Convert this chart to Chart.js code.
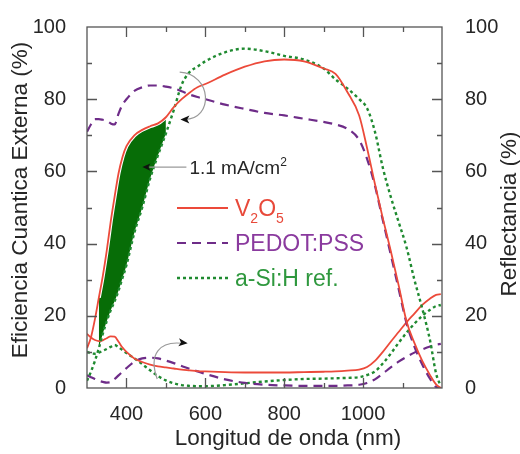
<!DOCTYPE html>
<html>
<head>
<meta charset="utf-8">
<script src="https://cdn.jsdelivr.net/npm/chart.js@4/dist/chart.umd.min.js"></script>
<style>
  html, body { margin: 0; padding: 0; background: #fff; }
  #wrap { width: 520px; height: 454px; }
</style>
</head>
<body>
<div id="wrap"><canvas id="eqeChart" width="520" height="454"></canvas></div>
<script>
// wavelength grid (nm) shared by all curves
const wavelength = [300, 310, 320, 330, 340, 350, 360, 370, 380, 390, 400, 420, 440, 460, 480, 500, 520, 540, 560, 580, 600, 650, 700, 750, 800, 850, 900, 930, 960, 990, 1010, 1030, 1050, 1070, 1090, 1110, 1130, 1150, 1170, 1185, 1197];

// external quantum efficiency (%)
const eqeV2O5 = [11, 14, 19, 25, 31, 38, 46, 53, 59.5, 64, 67, 70, 71.5, 72.5, 73.3, 75, 77.8, 80, 81.8, 83.3, 84.2, 86.8, 89, 90.5, 91, 90.5, 88.5, 87, 82, 75.5, 66.5, 56.5, 47, 38, 28.5, 18.5, 12.5, 7.5, 3.5, 1, 0];
const eqePEDOT = [71, 73, 74.5, 74.5, 74.3, 74, 73.3, 73, 76, 78.5, 80, 82.3, 83.3, 83.8, 83.8, 83.5, 83, 82.2, 81.3, 80.6, 80, 78.5, 77.3, 76.2, 75.5, 74.6, 73.7, 73, 71.8, 68.7, 63.5, 56, 46.5, 37, 27.5, 18, 11.5, 6.5, 2.5, 0.3, 0];
const eqeASi = [2, 4.5, 7.5, 11, 15, 18.5, 21.5, 24, 27, 30.5, 34, 43, 50, 58, 64.5, 70.5, 77, 84, 87.5, 89, 90.5, 93, 94, 93.3, 92, 91, 88.5, 85.5, 83, 80, 77.5, 71, 61, 53, 46, 39, 30, 22, 13, 4, 0.5];

// reflectance (%)
const refV2O5 = [15, 14, 13.3, 13, 13.2, 13.8, 14.3, 14.2, 12.8, 11.2, 10, 8.2, 7.2, 6.5, 6, 5.7, 5.4, 5.1, 4.9, 4.7, 4.6, 4.4, 4.3, 4.3, 4.3, 4.4, 4.5, 4.6, 4.8, 5.1, 5.8, 7.5, 10, 12.8, 15.5, 18.2, 20.6, 23, 24.8, 25.8, 26];
const refPEDOT = [3.5, 3, 2.5, 2, 1.7, 1.5, 1.6, 2.5, 3.5, 4.5, 5.5, 7.3, 8.2, 8.4, 8.2, 7.6, 6.9, 6.1, 5.3, 4.6, 3.9, 2.4, 1.4, 0.9, 0.7, 0.6, 0.6, 0.6, 0.7, 0.9, 1.4, 2.4, 4, 5.7, 7.3, 8.6, 9.8, 10.7, 11.5, 12, 12.2];
const refASi = [10, 9.6, 9.5, 9.8, 10.3, 10.8, 11.4, 11.9, 11.3, 10.5, 9.7, 8.2, 6.6, 4.9, 3.3, 2.1, 1.3, 0.8, 0.6, 0.5, 0.5, 0.8, 1.3, 1.8, 2.2, 2.5, 2.6, 2.7, 2.8, 3, 3.6, 4.6, 6.8, 9.5, 12.5, 15.3, 17.8, 20, 21.7, 22.7, 23];

// shaded gain region (1.1 mA/cm2) between V2O5 and a-Si:H
const gainRange = [330, 500];

// axis ticks
const xTicks = [400, 600, 800, 1000];
const xMinor = [400, 500, 600, 700, 800, 900, 1000, 1100];
const yTicks = [0, 20, 40, 60, 80, 100];
const yMinor = [10, 20, 30, 40, 50, 60, 70, 80, 90];

const FONT = "'Liberation Sans', Arial, sans-serif";
const RED = '#ec4a3a', PURPLE = '#6e2c88', GREEN = '#1f8a30', FILL = '#076d07';
const INK = '#262626';

function pts(ys, range) {
  const out = [];
  wavelength.forEach((w, i) => {
    if (!range || (w >= range[0] && w <= range[1])) out.push({ x: w, y: ys[i] });
  });
  return out;
}

function line(label, data, color, width, dash, axis) {
  return {
    label, data, borderColor: color, borderWidth: width, borderDash: dash,
    pointRadius: 0, fill: false, cubicInterpolationMode: 'monotone',
    yAxisID: axis, order: 1
  };
}

function vText(ctx, text, cx, cy) {
  ctx.save();
  ctx.translate(cx, cy);
  ctx.rotate(-Math.PI / 2);
  ctx.fillText(text, 0, 0);
  ctx.restore();
}

// inward ticks, box and axis titles
const framePlugin = {
  id: 'frame',
  afterDatasetsDraw(chart) {
    const { ctx, chartArea: a, scales: { x, y } } = chart;
    ctx.save();
    ctx.strokeStyle = '#555';
    ctx.lineWidth = 1.3;
    ctx.strokeRect(a.left, a.top, a.right - a.left, a.bottom - a.top);
    ctx.beginPath();
    xMinor.forEach(v => {
      const px = Math.round(x.getPixelForValue(v)) + 0.5;
      const len = xTicks.includes(v) ? 10 : 5;
      ctx.moveTo(px, a.bottom); ctx.lineTo(px, a.bottom - len);
      ctx.moveTo(px, a.top); ctx.lineTo(px, a.top + len);
    });
    yMinor.forEach(v => {
      const py = Math.round(y.getPixelForValue(v)) + 0.5;
      const len = yTicks.includes(v) ? 10 : 5;
      ctx.moveTo(a.left, py); ctx.lineTo(a.left + len, py);
      ctx.moveTo(a.right, py); ctx.lineTo(a.right - len, py);
    });
    ctx.stroke();

    ctx.fillStyle = INK;
    ctx.textAlign = 'center';
    ctx.textBaseline = 'middle';
    ctx.font = '22.5px ' + FONT;
    ctx.fillText('Longitud de onda (nm)', 288, 439);
    vText(ctx, 'Eficiencia Cuantica Externa (%)', 21, 200);
    vText(ctx, 'Reflectancia (%)', 510, 214);
    ctx.restore();
  }
};

function arrowHead(ctx, x, y, ang, size) {
  ctx.save();
  ctx.translate(x, y);
  ctx.rotate(ang);
  ctx.beginPath();
  ctx.moveTo(0, 0);
  ctx.lineTo(-size, -size * 0.45);
  ctx.lineTo(-size * 0.75, 0);
  ctx.lineTo(-size, size * 0.45);
  ctx.closePath();
  ctx.fillStyle = '#111';
  ctx.fill();
  ctx.restore();
}

// draw text with sub/superscript pieces: [text, shift] shift: 0 normal, 1 sup, -1 sub
function richText(ctx, parts, x, y, size, color) {
  ctx.fillStyle = color;
  ctx.textBaseline = 'alphabetic';
  ctx.textAlign = 'left';
  parts.forEach(([t, s]) => {
    const fs = s === 0 ? size : Math.round(size * 0.62);
    ctx.font = fs + 'px ' + FONT;
    const dy = s === 1 ? -size * 0.42 : s === -1 ? size * 0.3 : 0;
    ctx.fillText(t, x, y + dy);
    x += ctx.measureText(t).width;
  });
}

const notesPlugin = {
  id: 'notes',
  afterDatasetsDraw(chart) {
    const { ctx, scales: { x, y } } = chart;
    const P = (w, v) => [x.getPixelForValue(w), y.getPixelForValue(v)];
    ctx.save();
    ctx.strokeStyle = '#9a9a9a';
    ctx.lineWidth = 1.2;

    // curved arrow to EQE axis
    let s = P(535, 87.5), c1 = P(618, 87), c2 = P(622, 74.3), e = P(547, 74.4);
    ctx.beginPath(); ctx.moveTo(...s); ctx.bezierCurveTo(...c1, ...c2, ...e); ctx.stroke();
    arrowHead(ctx, e[0] - 4, e[1], Math.atan2(e[1] - c2[1], e[0] - c2[0]), 9);

    // curved arrow to reflectance axis
    s = P(478, 2.5); c1 = P(455, 9.5); c2 = P(485, 13); e = P(540, 12.4);
    ctx.beginPath(); ctx.moveTo(...s); ctx.bezierCurveTo(...c1, ...c2, ...e); ctx.stroke();
    arrowHead(ctx, e[0] + 6, e[1], Math.atan2(e[1] - c2[1], e[0] - c2[0]), 9);

    // 1.1 mA/cm2 label
    const a = P(552, 61.2), b = P(448, 61.2);
    ctx.beginPath(); ctx.moveTo(...a); ctx.lineTo(b[0] + 4, b[1]); ctx.stroke();
    arrowHead(ctx, b[0] - 3, b[1], Math.PI, 8);
    richText(ctx, [['1.1 mA/cm', 0], ['2', 1]], a[0] + 3, a[1] + 7, 19, INK);

    // legend
    const rows = [
      { color: RED, dash: [], w: 1.8, parts: [['V', 0], ['2', -1], ['O', 0], ['5', -1]] },
      { color: PURPLE, dash: [9, 6], w: 2.2, parts: [['PEDOT:PSS', 0]] },
      { color: GREEN, dash: [3, 3], w: 2.4, parts: [['a-Si:H ref.', 0]] }
    ];
    const txtColor = ['#e8493a', '#8a3a9e', '#2f983e'];
    rows.forEach((r, i) => {
      const ly = 208 + i * 35;
      ctx.save();
      ctx.strokeStyle = r.color; ctx.lineWidth = r.w; ctx.setLineDash(r.dash);
      ctx.beginPath(); ctx.moveTo(177, ly); ctx.lineTo(228, ly); ctx.stroke();
      ctx.restore();
      richText(ctx, r.parts, 235, ly + 8, 23, txtColor[i]);
    });
    ctx.restore();
  }
};

const tickFont = { family: FONT, size: 20 };

new Chart(document.getElementById('eqeChart').getContext('2d'), {
  type: 'line',
  data: {
    datasets: [
      { label: 'gain', data: pts(eqeV2O5, gainRange), borderColor: '#fff', borderWidth: 4,
        backgroundColor: FILL, pointRadius: 0, fill: 1, cubicInterpolationMode: 'monotone', yAxisID: 'y', order: 10 },
      { label: 'gainLow', data: pts(eqeASi, gainRange), borderColor: '#fff', borderWidth: 4,
        pointRadius: 0, fill: false, cubicInterpolationMode: 'monotone', yAxisID: 'y', order: 10 },
      line('V2O5', pts(eqeV2O5), RED, 1.8, [], 'y'),
      line('PEDOT:PSS', pts(eqePEDOT), PURPLE, 2.2, [9, 6], 'y'),
      line('a-Si:H ref.', pts(eqeASi), GREEN, 2.4, [3, 3], 'y'),
      line('R V2O5', pts(refV2O5), RED, 1.8, [], 'yR'),
      line('R PEDOT:PSS', pts(refPEDOT), PURPLE, 2.2, [9, 6], 'yR'),
      line('R a-Si:H ref.', pts(refASi), GREEN, 2.4, [3, 3], 'yR')
    ]
  },
  options: {
    responsive: false,
    animation: false,
    layout: { padding: { top: 17, left: 0, right: 0, bottom: 0 } },
    plugins: { legend: { display: false }, tooltip: { enabled: false } },
    scales: {
      x: {
        type: 'linear', min: 300, max: 1200,
        afterBuildTicks: s => { s.ticks = xTicks.map(v => ({ value: v })); },
        afterFit: s => { s.height = 66; },
        grid: { display: false }, border: { display: false },
        ticks: { font: tickFont, color: INK, padding: 6, maxRotation: 0, callback: v => String(v) },
        title: { display: false }
      },
      y: {
        position: 'left', min: 0, max: 100,
        afterBuildTicks: s => { s.ticks = yTicks.map(v => ({ value: v })); },
        afterFit: s => { s.width = 87; },
        grid: { display: false }, border: { display: false },
        ticks: { font: tickFont, color: INK, padding: 13, callback: v => String(v) },
        title: { display: false }
      },
      yR: {
        position: 'right', min: 0, max: 100,
        afterBuildTicks: s => { s.ticks = yTicks.map(v => ({ value: v })); },
        afterFit: s => { s.width = 78; },
        grid: { display: false }, border: { display: false },
        ticks: { font: tickFont, color: INK, padding: 15, callback: v => String(v) },
        title: { display: false }
      }
    }
  },
  plugins: [framePlugin, notesPlugin]
});
</script>
</body>
</html>
